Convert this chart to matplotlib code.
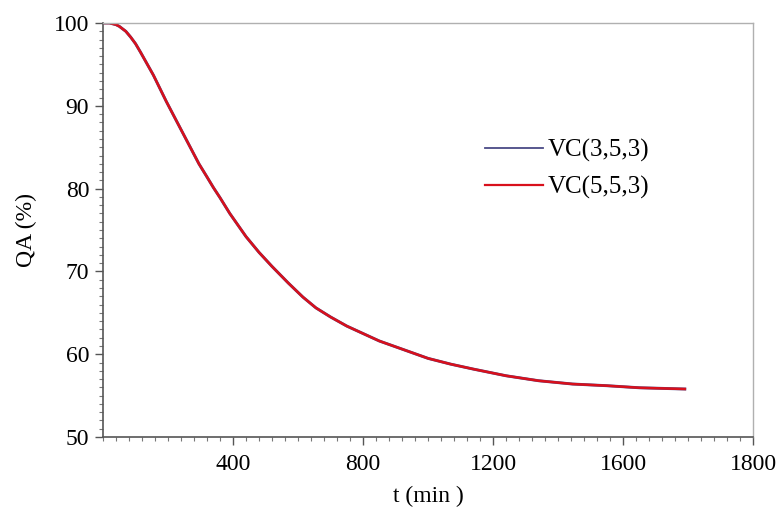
import numpy as np
import matplotlib.pyplot as plt
from matplotlib.ticker import MultipleLocator

# values
t_min = [0, 10, 20, 30, 40, 50, 60, 70, 85, 100, 115, 135, 155, 175, 195, 215,
         235, 255, 275, 295, 320, 340, 360, 390, 415, 440, 480, 520, 570, 615,
         655, 700, 750, 800, 850, 900, 950, 1000, 1070, 1140, 1240, 1340, 1445,
         1550, 1650, 1790]
qa_353 = [100.0, 100.0, 100.0, 99.9, 99.8, 99.6, 99.3, 99.0, 98.3, 97.5, 96.5,
          95.1, 93.7, 92.1, 90.5, 89.0, 87.5, 86.0, 84.5, 83.0, 81.4, 80.1,
          78.9, 77.0, 75.6, 74.2, 72.3, 70.6, 68.6, 66.9, 65.6, 64.5, 63.4,
          62.5, 61.6, 60.9, 60.2, 59.5, 58.8, 58.2, 57.4, 56.8, 56.4, 56.2,
          55.95, 55.8]
qa_553 = list(qa_353)
labels = ['VC(3,5,3)', 'VC(5,5,3)']

xticks = [400, 800, 1200, 1600, 2000]
xtick_labels = ['400', '800', '1200', '1600', '1800']
yticks = [50, 60, 70, 80, 90, 100]

plt.rcParams['font.family'] = ['Liberation Serif', 'DejaVu Serif']

fig = plt.figure(figsize=(7.77, 5.07), dpi=100)
ax = fig.add_axes([0.1326, 0.138, 0.8366, 0.8166])

ax.plot(t_min, qa_353, color='#4a4a86', lw=2.1, label=labels[0],
        solid_joinstyle='round')
ax.plot(t_min, qa_553, color='#d8101c', lw=1.8, label=labels[1],
        solid_joinstyle='round')

ax.set_xlim(0, 2000)
ax.set_ylim(50, 100)
ax.set_xticks(xticks)
ax.set_xticklabels(xtick_labels)
ax.set_yticks(yticks)
ax.xaxis.set_minor_locator(MultipleLocator(40))
ax.yaxis.set_minor_locator(MultipleLocator(1))

ax.tick_params(which='major', direction='out', length=6, width=1,
               color='#555555', labelsize=17, pad=4)
ax.tick_params(which='minor', direction='out', length=3, width=0.8,
               color='#777777')
ax.tick_params(axis='x', pad=6)

for s in ['left', 'bottom']:
    ax.spines[s].set_color('#555555')
    ax.spines[s].set_linewidth(1.2)
for s in ['top', 'right']:
    ax.spines[s].set_color('#b0b0b0')
    ax.spines[s].set_linewidth(1.0)

ax.set_xlabel('t (min )', fontsize=17, labelpad=8)
ax.set_ylabel('QA (%)', fontsize=17, labelpad=12)

leg = ax.legend(loc='upper left', bbox_to_anchor=(0.588, 0.72), frameon=False,
                fontsize=18, handlelength=2.3, handletextpad=0.2,
                labelspacing=0.55, borderpad=0, borderaxespad=0)
leg.get_lines()[0].set_linewidth(1.3)
leg.get_lines()[1].set_linewidth(1.6)

fig.savefig('out.png', dpi=100)
